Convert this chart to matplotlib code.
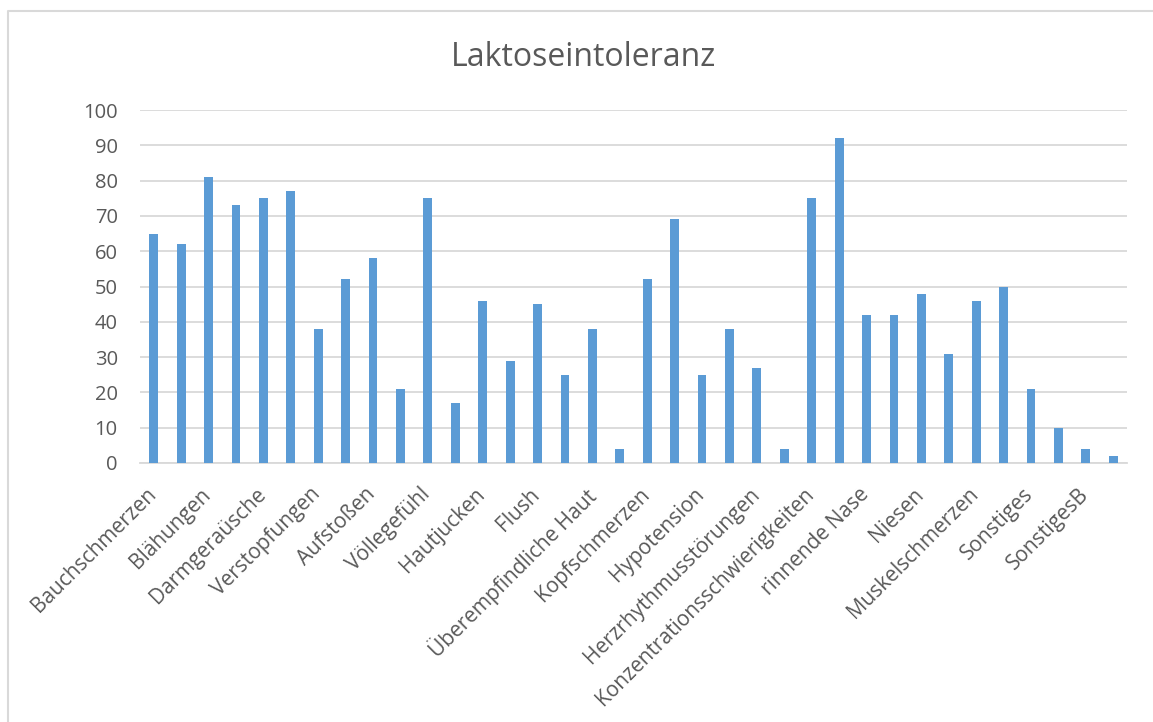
import matplotlib.pyplot as plt
import matplotlib.transforms as mtransforms
import numpy as np
from matplotlib.lines import Line2D

# Werte pro Symptom (36 Balken, nur jede zweite Kategorie ist beschriftet)
werte = [65, 62, 81, 73, 75, 77, 38, 52, 58, 21, 75, 17,
         46, 29, 45, 25, 38, 4, 52, 69, 25, 38, 27, 4,
         75, 92, 42, 42, 48, 31, 46, 50, 21, 10, 4, 2]

beschriftungen = ["Bauchschmerzen", "Blähungen", "Darmgeraüsche", "Verstopfungen",
                  "Aufstoßen", "Völlegefühl", "Hautjucken", "Flush",
                  "Überempfindliche Haut", "Kopfschmerzen", "Hypotension",
                  "Herzrhythmusstörungen", "Konzentrationsschwierigkeiten",
                  "rinnende Nase", "Niesen", "Muskelschmerzen", "Sonstiges", "SonstigesB"]

y_ticks = [0, 10, 20, 30, 40, 50, 60, 70, 80, 90, 100]

plt.rcParams['font.family'] = ['Open Sans', 'DejaVu Sans']
textfarbe = '#595959'

fig = plt.figure(figsize=(11.53, 7.22), dpi=100)
ax = fig.add_axes([140 / 1153, 1 - 463 / 722, (1127 - 140) / 1153, (463 - 110) / 722])

x = np.arange(len(werte))
ax.bar(x, werte, width=0.32, color='#5B9BD5', zorder=3)

ax.set_xlim(-0.5, len(werte) - 0.5)
ax.set_ylim(0, 100)
ax.set_yticks(y_ticks)
ax.set_yticklabels([str(t) for t in y_ticks], fontsize=14.5, color=textfarbe)
ax.tick_params(axis='y', length=0, pad=16)

ax.set_xticks(x[::2])
ax.set_xticklabels(beschriftungen, rotation=45, ha='right', rotation_mode='anchor',
                   fontsize=15, color=textfarbe)
ax.tick_params(axis='x', length=0, pad=15)
# Beschriftungen etwas nach links schieben wie in Excel
verschiebung = mtransforms.ScaledTranslation(-8 / 100, 0, fig.dpi_scale_trans)
for lbl in ax.get_xticklabels():
    lbl.set_transform(lbl.get_transform() + verschiebung)

ax.grid(axis='y', color='#D9D9D9', linewidth=1.3, zorder=0)
for s in ['top', 'right', 'left']:
    ax.spines[s].set_visible(False)
ax.spines['bottom'].set_color('#D9D9D9')
ax.spines['bottom'].set_linewidth(1.3)

fig.text(583 / 1153, 1 - 57 / 722, "Laktoseintoleranz", fontsize=23,
         color=textfarbe, ha='center', va='center')

# Rahmen des Diagramms (oben und links sichtbar)
fig.add_artist(Line2D([8 / 1153, 8 / 1153, 1.0], [0.0, 1 - 11 / 722, 1 - 11 / 722],
                      transform=fig.transFigure, color='#D9D9D9', linewidth=1.5))

fig.savefig('out.png', dpi=100)
